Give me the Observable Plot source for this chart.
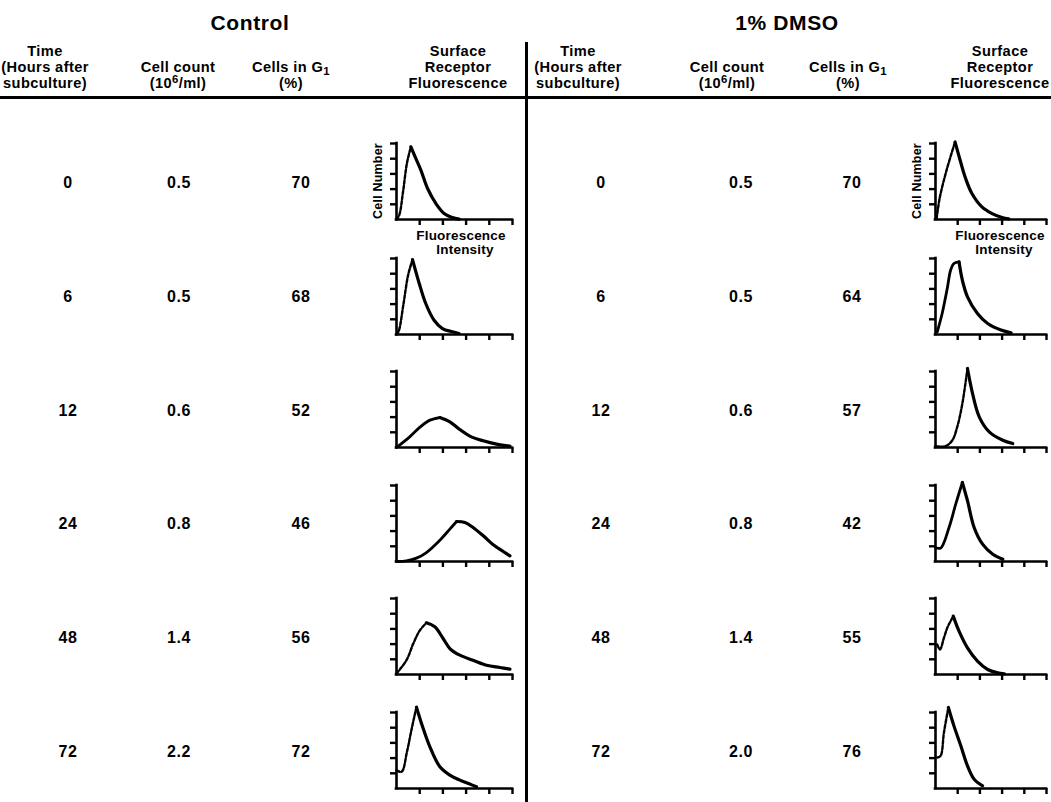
<!DOCTYPE html>
<html>
<head>
<meta charset="utf-8">
<script src="https://cdn.jsdelivr.net/npm/d3@7"></script>
<script src="https://cdn.jsdelivr.net/npm/@observablehq/plot@0.6"></script>
<style>
  html, body { margin: 0; padding: 0; background: #fff; }
  #fig { position: relative; width: 1051px; height: 802px; overflow: hidden;
         font-family: "Liberation Sans", Arial, Helvetica, sans-serif; font-weight: bold; color: #000; }
  .t { position: absolute; transform: translate(-50%, -50%); white-space: nowrap; line-height: 1; }
  .title { font-size: 21px; letter-spacing: 0.6px; }
  .hdr { font-size: 14.6px; letter-spacing: 0.4px; }
  .val { font-size: 16px; letter-spacing: 0.6px; }
  .lab { font-size: 13.5px; letter-spacing: 0.2px; }
  .ylab { font-size: 12.5px; letter-spacing: 0.2px; }
  sup, sub { font-size: 0.78em; line-height: 0; vertical-align: baseline; position: relative; }
  sup { top: -0.4em; }
  sub { top: 0.22em; }
  .rule { position: absolute; background: #000; }
</style>
</head>
<body>
<div id="fig"></div>
<script>
// ---------- data ----------
const groups = ["Control", "1% DMSO"];
const times = [0, 6, 12, 24, 48, 72];
const controlCellCount = ["0.5", "0.5", "0.6", "0.8", "1.4", "2.2"];
const controlG1 = [70, 68, 52, 46, 56, 72];
const dmsoCellCount = ["0.5", "0.5", "0.6", "0.8", "1.4", "2.0"];
const dmsoG1 = [70, 64, 57, 42, 55, 76];
const headerLines = [
  ["Time", "(Hours after", "subculture)"],
  ["Cell count", "(10<sup>6</sup>/ml)"],
  ["Cells in G<sub>1</sub>", "(%)"],
  ["Surface", "Receptor", "Fluorescence"]
];
const yAxisLabel = "Cell Number";
const xAxisLabel = ["Fluorescence", "Intensity"];
const histTicks = [1, 2, 3, 4, 5];

// fluorescence histograms: [intensity, cell number] in axis-tick units (0..5)
const controlCurves = [
  [[0,0],[0.12,0.3],[0.28,1.8],[0.45,3.7],[0.62,4.78],[0.78,4.2],[1.05,3.25],[1.34,2.04],[1.7,1.05],[2.05,0.4],[2.41,0.13],[2.7,0.02]],
  [[0,0],[0.1,0.25],[0.3,2.0],[0.5,3.9],[0.69,4.93],[0.98,3.36],[1.26,2.04],[1.62,0.94],[1.98,0.39],[2.41,0.18],[2.7,0.07]],
  [[0,0],[0.57,0.7],[1.0,1.32],[1.44,1.8],[1.87,1.97],[2.3,1.69],[2.73,1.18],[3.16,0.75],[3.74,0.44],[4.31,0.22],[4.89,0.09]],
  [[0,0],[0.43,0.04],[0.86,0.22],[1.29,0.59],[1.87,1.4],[2.3,2.13],[2.59,2.63],[2.95,2.57],[3.3,2.24],[3.74,1.69],[4.17,1.1],[4.6,0.66],[4.89,0.37]],
  [[0,0.07],[0.43,0.94],[0.72,2.02],[1.0,2.89],[1.29,3.4],[1.65,3.14],[2.01,2.37],[2.3,1.71],[2.73,1.27],[3.3,0.94],[3.88,0.61],[4.45,0.46],[4.89,0.35]],
  [[0,1.2],[0.22,1.1],[0.45,2.4],[0.65,3.9],[0.86,5.35],[1.15,3.95],[1.44,2.74],[1.87,1.43],[2.3,0.88],[2.73,0.55],[3.16,0.29],[3.45,0.11]]
];
const dmsoCurves = [
  [[0.05,0.07],[0.2,1.49],[0.5,3.25],[0.88,5.1],[1.11,3.9],[1.33,2.81],[1.64,1.71],[2.09,0.83],[2.55,0.39],[3.0,0.13],[3.3,0.04]],
  [[0.08,0.18],[0.3,1.38],[0.53,3.03],[0.68,4.23],[0.83,4.67],[1.06,4.78],[1.21,3.57],[1.44,2.48],[1.89,1.38],[2.35,0.72],[2.95,0.29],[3.41,0.11]],
  [[0,0.09],[0.45,0.09],[0.76,0.48],[0.98,1.36],[1.21,2.89],[1.44,5.2],[1.67,3.55],[1.97,2.02],[2.42,1.03],[3.03,0.48],[3.48,0.26]],
  [[0,0.92],[0.23,0.88],[0.61,2.24],[0.91,3.77],[1.21,5.2],[1.44,4.0],[1.74,2.24],[2.12,1.14],[2.58,0.48],[3.03,0.15]],
  [[0.08,1.97],[0.2,1.64],[0.38,2.41],[0.53,3.07],[0.68,3.51],[0.8,3.84],[1.06,2.85],[1.44,1.75],[1.89,0.88],[2.35,0.33],[2.8,0.11],[3.1,0.04]],
  [[0.08,2.04],[0.23,2.15],[0.38,3.68],[0.58,5.33],[0.83,4.12],[1.14,2.81],[1.44,1.49],[1.74,0.61],[2.12,0.18]]
];

// ---------- layout ----------
const fig = document.getElementById("fig");
function text(cls, html, x, y, extra) {
  const d = document.createElement("div");
  d.className = "t " + cls;
  d.innerHTML = html;
  d.style.left = x + "px";
  d.style.top = y + "px";
  if (extra) Object.assign(d.style, extra);
  fig.appendChild(d);
  return d;
}
function rule(x, y, w, h) {
  const d = document.createElement("div");
  d.className = "rule";
  Object.assign(d.style, {left: x + "px", top: y + "px", width: w + "px", height: h + "px"});
  fig.appendChild(d);
}

const layout = [
  {title: 250, hdr: [45, 178, 291, 458], val: [68, 179, 301], ox: 396, aw: 116, labX: 461,
   counts: controlCellCount, g1: controlG1, curves: controlCurves, dottedRise: [true, true, false, false, true, true]},
  {title: 787, hdr: [578, 727, 848, 1000], val: [601, 741, 852], ox: 935, aw: 111, labX: 1000,
   counts: dmsoCellCount, g1: dmsoG1, curves: dmsoCurves, dottedRise: [true, false, true, false, true, true]}
];
const rowY = [183, 297, 411, 524, 638, 752];
const axisBottom = [219, 334, 447, 561, 674, 788];
const AH = 76;
const hdrLineY = [51, 67, 83];

function hist(pts, aw, dotted) {
  const mL = 9, mR = 6, mT = 9, mB = 9;
  const peak = d3.maxIndex(pts, d => d[1]);
  const rise = pts.slice(0, peak + 1);
  const fall = pts.slice(peak);
  const svg = Plot.plot({
    width: mL + aw + mR, height: mT + AH + mB,
    marginLeft: mL, marginRight: mR, marginTop: mT, marginBottom: mB,
    style: {background: "transparent", overflow: "visible"},
    x: {domain: [0, 5], axis: null},
    y: {domain: [0, 5], axis: null},
    marks: [
      Plot.axisX({ticks: histTicks, tickSize: 6, tickFormat: () => "", label: null, strokeWidth: 2.4}),
      Plot.axisY({ticks: histTicks, tickSize: 6, tickFormat: () => "", label: null, strokeWidth: 2.4}),
      Plot.ruleX([0], {stroke: "#000", strokeWidth: 2.6, strokeLinecap: "square"}),
      Plot.ruleY([0], {stroke: "#000", strokeWidth: 2.6, strokeLinecap: "square"}),
      Plot.line(rise, {x: d => d[0], y: d => d[1], stroke: "#000", strokeWidth: dotted ? 2.4 : 2.8,
        strokeDasharray: dotted ? "3.5,1.8" : null, curve: "catmull-rom", clip: false}),
      Plot.line(fall, {x: d => d[0], y: d => d[1], stroke: "#000", strokeWidth: 3.2, curve: "catmull-rom", clip: false})
    ]
  });
  return {svg, mL, mT};
}

layout.forEach((g, gi) => {
  text("title", groups[gi], g.title, 22);
  headerLines.forEach((lines, ci) => {
    const off = 3 - lines.length;
    lines.forEach((ln, li) => text("hdr", ln, g.hdr[ci], hdrLineY[li + off]));
  });
  times.forEach((t, ri) => {
    text("val", String(t), g.val[0], rowY[ri]);
    text("val", g.counts[ri], g.val[1], rowY[ri]);
    text("val", String(g.g1[ri]), g.val[2], rowY[ri]);
    const {svg, mL, mT} = hist(g.curves[ri], g.aw, g.dottedRise[ri]);
    svg.style.position = "absolute";
    svg.style.left = (g.ox - mL) + "px";
    svg.style.top = (axisBottom[ri] - AH - mT) + "px";
    fig.appendChild(svg);
  });
  // axis labels on first histogram
  text("ylab", yAxisLabel, g.ox - 18, axisBottom[0] - 38, {transform: "translate(-50%,-50%) rotate(-90deg)"});
  text("lab", xAxisLabel[0], g.labX, 236);
  text("lab", xAxisLabel[1], g.labX + 4, 250);
});

rule(0, 96, 1051, 2.5);
rule(525, 42, 2.6, 760);
</script>
</body>
</html>
